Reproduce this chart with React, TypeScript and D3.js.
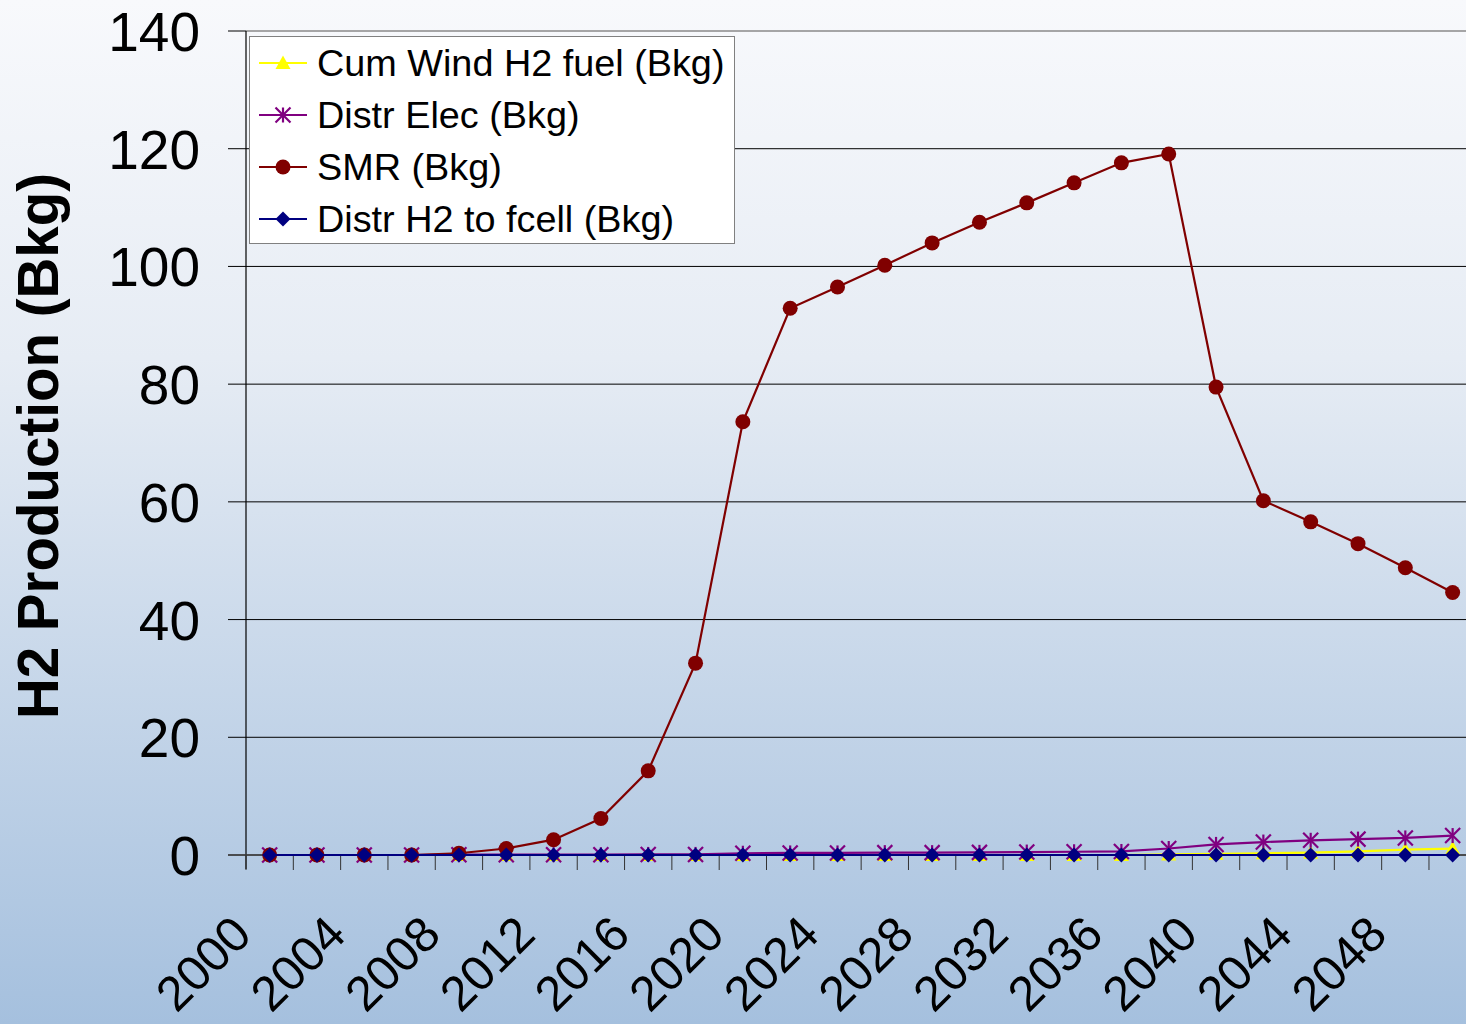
import React from "react";
import * as d3 from "d3";

const categories = ["2000","2002","2004","2006","2008","2010","2012","2014","2016","2018","2020","2022","2024","2026","2028","2030","2032","2034","2036","2038","2040","2042","2044","2046","2048","2050"];
const cumWind = [0,0,0,0,0,0,0,0,0,0,0,0,0,0,0,0,0,0,0,0.1,0.2,0.3,0.4,0.6,0.9,1.1];
const distrElec = [0,0,0,0,0.05,0.05,0.05,0.05,0.1,0.1,0.3,0.35,0.35,0.4,0.4,0.45,0.5,0.55,0.6,1.1,1.8,2.2,2.5,2.7,2.9,3.3];
const smr = [0,0,0,0,0.3,1.1,2.6,6.2,14.3,32.6,73.6,92.9,96.5,100.2,104.0,107.5,110.8,114.2,117.6,119.1,79.5,60.2,56.6,52.9,48.8,44.6];
const distrH2Fcell = [0,0,0,0,0,0,0,0,0,0,0,0,0,0,0,0,0,0,0,0,0,0,0,0,0,0];
const yTicks = [0,20,40,60,80,100,120,140];

const seriesNames = ["Cum Wind H2 fuel (Bkg)", "Distr Elec (Bkg)", "SMR (Bkg)", "Distr H2 to fcell (Bkg)"];
const seriesColors = ["#FFFF00", "#800080", "#800000", "#000080"];
const seriesMarkers = ["triangle", "star", "circle", "diamond"];
const seriesData = [cumWind, distrElec, smr, distrH2Fcell];

const W = 1466, H = 1024;
const left = 246, right = 1476.3, top = 31, bottom = 855;
const FONT = "'Liberation Sans', Arial, sans-serif";

function Marker({ type, x, y, color }: { type: string; x: number; y: number; color: string }) {
  const s = 7.5;
  if (type === "circle") return <circle cx={x} cy={y} r={s} fill={color} />;
  if (type === "diamond")
    return <path d={`M${x},${y - s}L${x + s},${y}L${x},${y + s}L${x - s},${y}Z`} fill={color} />;
  if (type === "triangle")
    return <path d={`M${x},${y - s}L${x + s},${y + s * 0.8}L${x - s},${y + s * 0.8}Z`} fill={color} />;
  return (
    <g stroke={color} strokeWidth={2.2}>
      <line x1={x} y1={y - s} x2={x} y2={y + s} />
      <line x1={x - s} y1={y - s} x2={x + s} y2={y + s} />
      <line x1={x - s} y1={y + s} x2={x + s} y2={y - s} />
    </g>
  );
}

export default function App() {
  const x = d3.scaleBand<string>().domain(categories).range([left, right]);
  const y = d3.scaleLinear().domain([0, 140]).range([bottom, top]);
  const cx = (c: string) => (x(c) as number) + x.bandwidth() / 2;
  const line = d3
    .line<number>()
    .x((_, i) => cx(categories[i]))
    .y((v) => y(v));

  const boundaries = categories.map((c) => x(c) as number).concat([right]);

  return (
    <svg width={W} height={H} style={{ position: "absolute", left: 0, top: 0 }} fontFamily={FONT}>
      <defs>
        <linearGradient id="bg" x1="0" y1="0" x2="0" y2="1">
          <stop offset="0" stopColor="#f8f9fc" />
          <stop offset="0.35" stopColor="#e6ecf4" />
          <stop offset="1" stopColor="#a5c0de" />
        </linearGradient>
      </defs>
      <rect x={0} y={0} width={W} height={H} fill="url(#bg)" />

      {yTicks.map((t) => (
        <line key={t} x1={left} x2={W} y1={y(t)} y2={y(t)} stroke={t === 140 ? "#8a8a8a" : "#000"} strokeWidth={t === 140 ? 1.5 : 1} />
      ))}
      <line x1={left} x2={left} y1={top} y2={bottom + 14} stroke="#000" strokeWidth={1.2} />
      {yTicks.map((t) => (
        <line key={"yt" + t} x1={left - 18} x2={left} y1={y(t)} y2={y(t)} stroke="#000" strokeWidth={1} />
      ))}
      {yTicks.map((t) => (
        <text key={"yl" + t} x={200} y={y(t) + 20} textAnchor="end" fontSize={55} fill="#000">
          {t}
        </text>
      ))}
      <line x1={left - 18} x2={W} y1={bottom} y2={bottom} stroke="#444" strokeWidth={1.5} />
      {boundaries.map((b, i) => (
        <line key={"xt" + i} x1={b} x2={b} y1={bottom} y2={bottom + 15} stroke="#333" strokeWidth={1} />
      ))}
      {categories.map((c, i) =>
        i % 2 === 0 ? (
          <text
            key={"xl" + c}
            transform={`translate(${cx(c) - 16},${bottom + 82}) rotate(-45)`}
            textAnchor="end"
            fontSize={49}
            fill="#000"
          >
            {c}
          </text>
        ) : null
      )}

      <text transform={`translate(58,446) rotate(-90)`} textAnchor="middle" fontSize={56.5} fontWeight="bold" fill="#000">
        H2 Production (Bkg)
      </text>

      {seriesData.map((data, si) => (
        <g key={"s" + si}>
          <path d={line(data) as string} fill="none" stroke={seriesColors[si]} strokeWidth={2.2} />
          {data.map((v, i) => (
            <Marker key={i} type={seriesMarkers[si]} x={cx(categories[i])} y={y(v)} color={seriesColors[si]} />
          ))}
        </g>
      ))}

      <rect x={249.5} y={36.5} width={485} height={207} fill="#fff" stroke="#808080" strokeWidth={1} />
      {seriesNames.map((n, i) => {
        const ly = 63 + i * 52;
        return (
          <g key={"lg" + i}>
            <line x1={259} x2={307} y1={ly} y2={ly} stroke={seriesColors[i]} strokeWidth={2.2} />
            <Marker type={seriesMarkers[i]} x={283} y={ly} color={seriesColors[i]} />
            <text x={317} y={ly + 13} fontSize={37.8} fill="#000">
              {n}
            </text>
          </g>
        );
      })}
    </svg>
  );
}
